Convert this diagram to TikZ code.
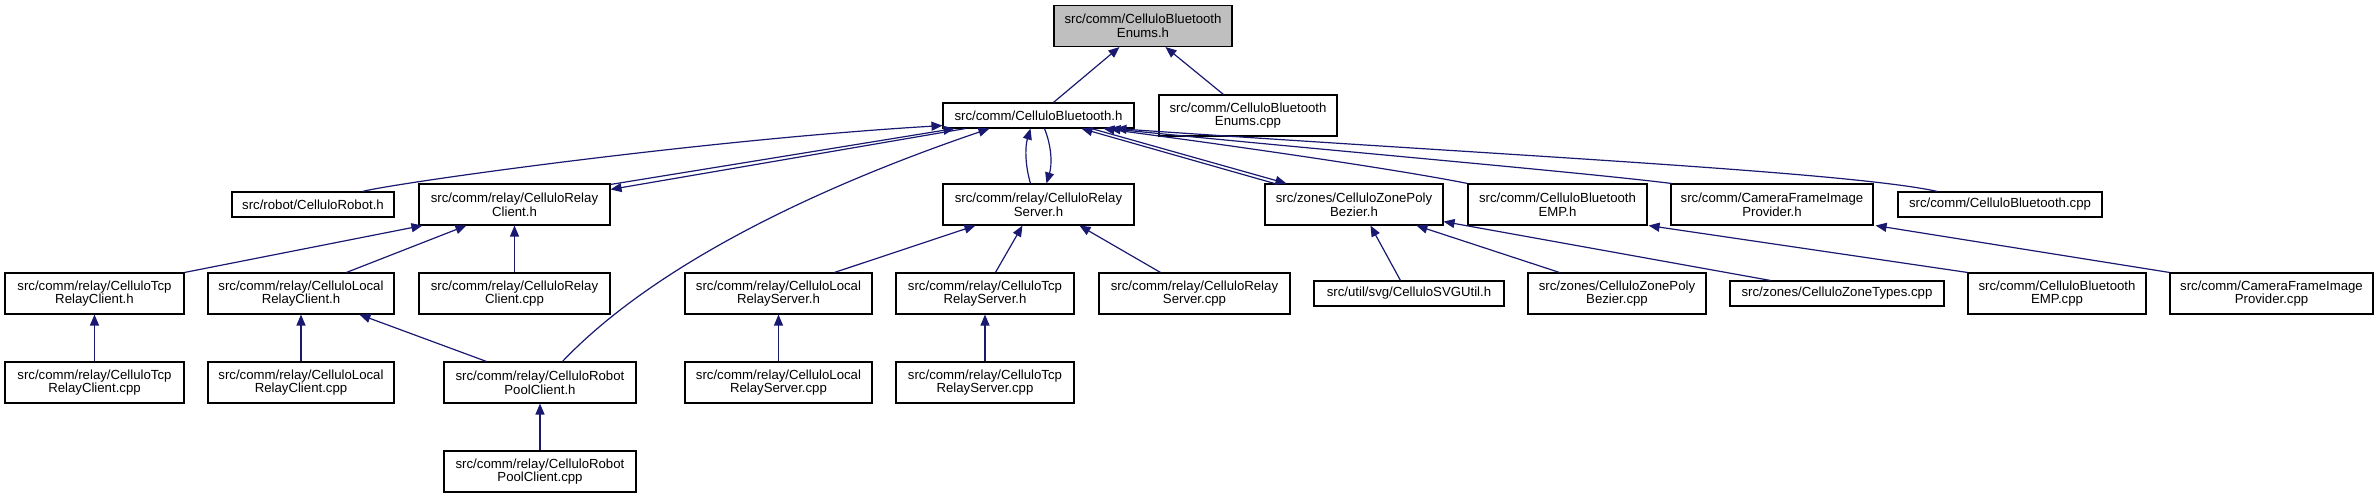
\documentclass[tikz,border=0pt]{standalone}
\usepackage{fontspec}
\setmainfont{Liberation Sans}
\usetikzlibrary{arrows.meta}
\definecolor{edgec}{HTML}{191970}
\tikzset{
  box/.style={draw=black, line width=1.1pt, fill=white, align=center, inner sep=0pt,
    font=\fontsize{13.2}{13.6}\selectfont, minimum height=41pt},
  box1/.style={box, minimum height=25pt},
  root/.style={box, fill=gray!50},
  edge/.style={draw=edgec, line width=1.2pt, -{Triangle[length=11pt,width=9pt]}},
}
\begin{document}
\begin{tikzpicture}[x=1pt,y=-1pt]
\useasboundingbox (0,0) rectangle (2379,499);
% row 1
\node[root, minimum width=178pt] (enh) at (1143,26) {src/comm/CelluloBluetooth\\Enums.h};
% row 2
\node[box1, minimum width=191pt] (bth) at (1038.5,115.5) {src/comm/CelluloBluetooth.h};
\node[box, minimum width=178pt] (encpp) at (1248,115.5) {src/comm/CelluloBluetooth\\Enums.cpp};
% row 3
\node[box1, minimum width=162pt] (robh) at (313,204.5) {src/robot/CelluloRobot.h};
\node[box, minimum width=191pt] (rch) at (514.5,204.5) {src/comm/relay/CelluloRelay\\Client.h};
\node[box, minimum width=191pt] (rsh) at (1038.5,204.5) {src/comm/relay/CelluloRelay\\Server.h};
\node[box, minimum width=178pt] (zph) at (1354,204.5) {src/zones/CelluloZonePoly\\Bezier.h};
\node[box, minimum width=179pt] (emph) at (1557.5,204.5) {src/comm/CelluloBluetooth\\EMP.h};
\node[box, minimum width=202pt] (camh) at (1772,204.5) {src/comm/CameraFrameImage\\Provider.h};
\node[box1, minimum width=204pt] (btcpp) at (2000,204.5) {src/comm/CelluloBluetooth.cpp};
% row 4
\node[box, minimum width=179pt] (tch) at (94.5,293.5) {src/comm/relay/CelluloTcp\\RelayClient.h};
\node[box, minimum width=186pt] (lch) at (301,293.5) {src/comm/relay/CelluloLocal\\RelayClient.h};
\node[box, minimum width=191pt] (rccpp) at (514.5,293.5) {src/comm/relay/CelluloRelay\\Client.cpp};
\node[box, minimum width=187pt] (lsh) at (778.5,293.5) {src/comm/relay/CelluloLocal\\RelayServer.h};
\node[box, minimum width=178pt] (tsh) at (985,293.5) {src/comm/relay/CelluloTcp\\RelayServer.h};
\node[box, minimum width=191pt] (rscpp) at (1194.5,293.5) {src/comm/relay/CelluloRelay\\Server.cpp};
\node[box1, minimum width=190pt] (svgh) at (1409,293.5) {src/util/svg/CelluloSVGUtil.h};
\node[box, minimum width=178pt] (zpcpp) at (1617,293.5) {src/zones/CelluloZonePoly\\Bezier.cpp};
\node[box1, minimum width=214pt] (ztcpp) at (1837,293.5) {src/zones/CelluloZoneTypes.cpp};
\node[box, minimum width=178pt] (empcpp) at (2057,293.5) {src/comm/CelluloBluetooth\\EMP.cpp};
\node[box, minimum width=203pt] (camcpp) at (2271.5,293.5) {src/comm/CameraFrameImage\\Provider.cpp};
% row 5
\node[box, minimum width=179pt] (tccpp) at (94.5,382.5) {src/comm/relay/CelluloTcp\\RelayClient.cpp};
\node[box, minimum width=186pt] (lccpp) at (301,382.5) {src/comm/relay/CelluloLocal\\RelayClient.cpp};
\node[box, minimum width=192pt] (poolh) at (540,382.5) {src/comm/relay/CelluloRobot\\PoolClient.h};
\node[box, minimum width=187pt] (lscpp) at (778.5,382.5) {src/comm/relay/CelluloLocal\\RelayServer.cpp};
\node[box, minimum width=178pt] (tscpp) at (985,382.5) {src/comm/relay/CelluloTcp\\RelayServer.cpp};
% row 6
\node[box, minimum width=192pt] (poolcpp) at (540,471.5) {src/comm/relay/CelluloRobot\\PoolClient.cpp};

% edges into Enums.h
\draw[edge] ([xshift=111pt]bth.north west) -- ([xshift=66pt]enh.south west);
\draw[edge] ([xshift=65pt]encpp.north west) -- ([xshift=112pt]enh.south west);
% edges into / out of CelluloBluetooth.h
\draw[edge] ([xshift=131pt]robh.north west) .. controls (395,183) and (700,140) .. ([yshift=3pt]bth.south west);
\draw[edge] ([yshift=-1pt]rch.north east) -- ([xshift=12pt]bth.south west);
\draw[edge] ([xshift=23pt]bth.south west) -- ([yshift=-6pt]rch.north east);
\draw[edge] ([xshift=119pt]poolh.north west) .. controls (640,280) and (780,200) .. ([xshift=47pt]bth.south west);
\draw[edge] ([xshift=88pt]rsh.north west) .. controls (1025,165) and (1025,147) .. ([xshift=88pt]bth.south west);
\draw[edge] ([xshift=102pt]bth.south west) .. controls (1052,147) and (1052,165) .. ([xshift=104pt]rsh.north west);
\draw[edge] ([xshift=10pt]zph.north west) -- ([xshift=139pt]bth.south west);
\draw[edge] ([xshift=149pt]bth.south west) -- ([xshift=22pt]zph.north west);
\draw[edge] (emph.north west) .. controls (1400,170) and (1250,148) .. ([xshift=161pt]bth.south west);
\draw[edge] ([xshift=1pt]camh.north west) .. controls (1580,172) and (1300,148) .. ([xshift=167pt]bth.south west);
\draw[edge] ([xshift=40pt]btcpp.north west) .. controls (1850,172) and (1500,155) .. ([xshift=173pt]bth.south west);
% relay client
\draw[edge] (tch.north east) -- ([xshift=4pt]rch.south west);
\draw[edge] ([xshift=139pt]lch.north west) -- ([xshift=48pt]rch.south west);
\draw[edge] (rccpp.north) -- (rch.south);
\draw[edge] (tccpp.north) -- (tch.south);
\draw[edge] (lccpp.north) -- (lch.south);
\draw[edge] ([xshift=43pt]poolh.north west) -- ([xshift=152pt]lch.south west);
\draw[edge] (poolcpp.north) -- (poolh.south);
% relay server
\draw[edge] ([xshift=150pt]lsh.north west) -- ([xshift=33pt]rsh.south west);
\draw[edge] ([xshift=100pt]tsh.north west) -- ([xshift=80pt]rsh.south west);
\draw[edge] ([xshift=62pt]rscpp.north west) -- ([xshift=137pt]rsh.south west);
\draw[edge] (lscpp.north) -- (lsh.south);
\draw[edge] (tscpp.north) -- (tsh.south);
% zones
\draw[edge] ([xshift=87pt]svgh.north west) -- ([xshift=106pt]zph.south west);
\draw[edge] ([xshift=32pt]zpcpp.north west) -- ([xshift=152pt]zph.south west);
\draw[edge] ([xshift=41pt]ztcpp.north west) -- ([yshift=4pt]zph.south east);
% EMP, camera
\draw[edge] (empcpp.north west) -- ([xshift=1pt]emph.south east);
\draw[edge] (camcpp.north west) -- ([xshift=2pt]camh.south east);
\end{tikzpicture}
\end{document}
